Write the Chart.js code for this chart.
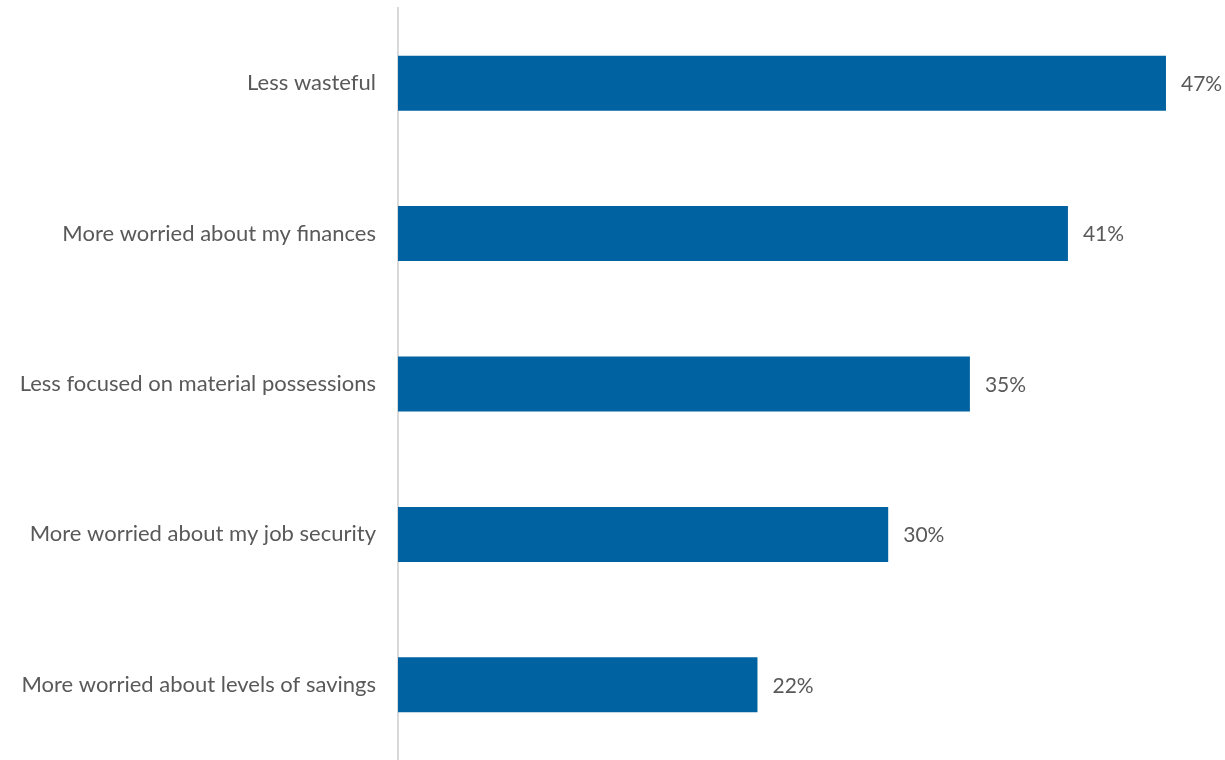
<!DOCTYPE html>
<html>
<head>
<meta charset="utf-8">
<script src="https://cdn.jsdelivr.net/npm/chart.js@4"></script>
<style>
  html, body { margin: 0; padding: 0; background: #fff; }
  #wrap { width: 1225px; height: 760px; }
</style>
</head>
<body>
<div id="wrap"><canvas id="myChart"></canvas></div>
<script>
const categories = [
  "Less wasteful",
  "More worried about my finances",
  "Less focused on material possessions",
  "More worried about my job security",
  "More worried about levels of savings",
];
const shares = [47, 41, 35, 30, 22];

const FONT = "Lato, sans-serif";
const TEXT = "#595959";

// percentage labels just past the end of each bar
const valueLabels = {
  id: "valueLabels",
  afterDatasetsDraw(chart) {
    const { ctx } = chart;
    const meta = chart.getDatasetMeta(0);
    ctx.save();
    ctx.font = "21px " + FONT;
    ctx.fillStyle = TEXT;
    ctx.textAlign = "left";
    ctx.textBaseline = "middle";
    meta.data.forEach((bar, i) => {
      ctx.fillText(shares[i] + "%", bar.x + 15, bar.y + 1);
    });
    ctx.restore();
  },
};

new Chart(document.getElementById("myChart"), {
  type: "bar",
  data: {
    labels: categories,
    datasets: [
      {
        data: shares,
        backgroundColor: "#0062a0",
        borderWidth: 0,
        categoryPercentage: 1,
        barPercentage: 0.366,
      },
    ],
  },
  options: {
    indexAxis: "y",
    responsive: true,
    maintainAspectRatio: false,
    animation: false,
    layout: { padding: { top: 8, right: 10, bottom: 0, left: 0 } },
    plugins: {
      legend: { display: false },
      tooltip: { enabled: false },
    },
    scales: {
      x: {
        display: false,
        min: 0,
        max: 50,
      },
      y: {
        grid: { display: false, drawTicks: false },
        border: { color: "#d9d9d9", width: 2 },
        ticks: {
          color: TEXT,
          font: { family: FONT, size: 22 },
          padding: 22,
        },
        afterFit(scale) {
          scale.width = 398;
          scale.paddingTop = 0;
          scale.paddingBottom = 0;
        },
      },
    },
  },
  plugins: [valueLabels],
});
</script>
</body>
</html>
